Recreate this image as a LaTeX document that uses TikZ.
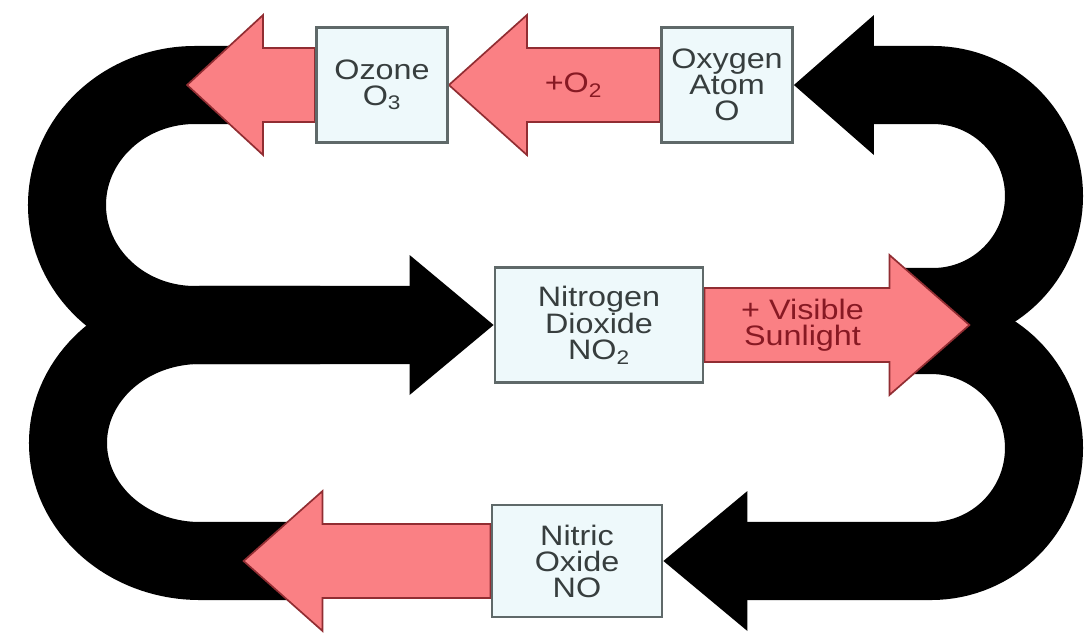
\documentclass[tikz,border=0pt]{standalone}
\usepackage{fontspec}
\setmainfont{Liberation Sans}
\newfontfamily\chemfont[FakeStretch=1.15]{Liberation Sans}
\usepackage{tikz}
\usetikzlibrary{calc}
\usetikzlibrary{backgrounds}
\definecolor{arrowpink}{RGB}{250,128,132}
\definecolor{arrowedge}{RGB}{145,45,50}
\definecolor{arrowtext}{RGB}{135,25,35}
\definecolor{boxfill}{RGB}{238,249,251}
\definecolor{boxedge}{RGB}{95,105,105}
\definecolor{boxtext}{RGB}{55,62,62}

\tikzset{
  species/.style={draw=boxedge, fill=boxfill, line width=2pt, align=center,
    text=boxtext, font=\chemfont\fontsize{20}{18.5}\selectfont,
    minimum height=2.875cm, inner sep=0pt},
  pinkarrow/.style={fill=arrowpink, draw=arrowedge, line width=1.2pt},
  pinklabel/.style={align=center, text=arrowtext,
    font=\chemfont\fontsize{20}{18.5}\selectfont, inner sep=0pt},
  blackband/.style={line width=1.95cm, black}
}

% block arrow: tail, tip, signed head length
\newcommand{\blockarrow}[3]{%
  \draw[pinkarrow] ($(#1)+(0,-\shaft)$) -- ($(#2)+(#3,-\shaft)$)
    -- ($(#2)+(#3,-\headw)$) -- (#2) -- ($(#2)+(#3,\headw)$)
    -- ($(#2)+(#3,\shaft)$) -- ($(#1)+(0,\shaft)$) -- cycle;}

\begin{document}
\begin{tikzpicture}[x=0.025cm, y=-0.025cm]

\def\shaft{37}   % half width of pink shaft
\def\headw{70}   % half width of pink head

\useasboundingbox (0,0) rectangle (1087,640);

%---------------------------------------
% Species boxes
%---------------------------------------
\node[species, minimum width=3.275cm] (oz)  at (382,85)  {Ozone\\O\textsubscript{3}};
\node[species, minimum width=3.275cm] (oxy) at (727,85)  {Oxygen\\Atom\\O};
\node[species, minimum width=5.2cm]   (no2) at (599,325) {Nitrogen\\Dioxide\\NO\textsubscript{2}};
\node[species, minimum width=4.25cm, minimum height=2.8cm] (no) at (577,561) {Nitric\\Oxide\\NO};

% tips of the pink arrows
\coordinate (ozTip)  at ($(oz.west)+(-128,0)$);
\coordinate (sunTip) at ($(no2.east)+(265,0)$);
\coordinate (noTip)  at ($(no.west)+(-247,0)$);

% hidden ends of the black bands
\coordinate (rUp)  at (900,307);
\coordinate (rLow) at (900,335);
\coordinate (lUp)  at (250,85);
\coordinate (lLow) at (300,561);

%---------------------------------------
% Arrow labels
%---------------------------------------
\node[pinklabel] (o2lab)  at ($(oxy.west)!0.41!(oz.east)$) {+O\textsubscript{2}};
\node[pinklabel] (sunlab) at ($(no2.east)!0.37!(sunTip)$) {+ Visible\\Sunlight};

\begin{scope}[on background layer]
  \fill[white] (0,0) rectangle (1087,640);

  %---------------------------------------
  % Black cycle bands
  %---------------------------------------
  % right, upper loop
  \draw[blackband] (rUp) -- (933,307)
        arc[start angle=90, end angle=-90, radius=111] -- ($(oxy.east)+(70,0)$);
  \fill (oxy.east) -- ++(80,-70) -- ++(0,140) -- cycle;

  % right, lower loop
  \draw[blackband] (rLow) -- (931,335)
        arc[start angle=-90, end angle=90, radius=113] -- ($(no.east)+(74,0)$);
  \fill (no.east) -- ++(84,-70) -- ++(0,140) -- cycle;

  % left, upper loop
  \draw[blackband] (lUp) -- (195,85)
        arc[start angle=-90, end angle=-270, x radius=128, y radius=120]
        -- ($(no2.west)+(-74,0)$);
  \fill (no2.west) -- ++(-84,-70) -- ++(0,140) -- cycle;

  % left, lower loop
  \draw[blackband] (lLow) -- (200,561)
        arc[start angle=90, end angle=270, x radius=132, y radius=118] -- (320,325);

  %---------------------------------------
  % Pink reaction arrows
  %---------------------------------------
  \blockarrow{oz.west}{ozTip}{76}
  \blockarrow{oxy.west}{oz.east}{78}
  \blockarrow{no2.east}{sunTip}{-80}
  \blockarrow{no.west}{noTip}{79}
\end{scope}

\end{tikzpicture}
\end{document}
